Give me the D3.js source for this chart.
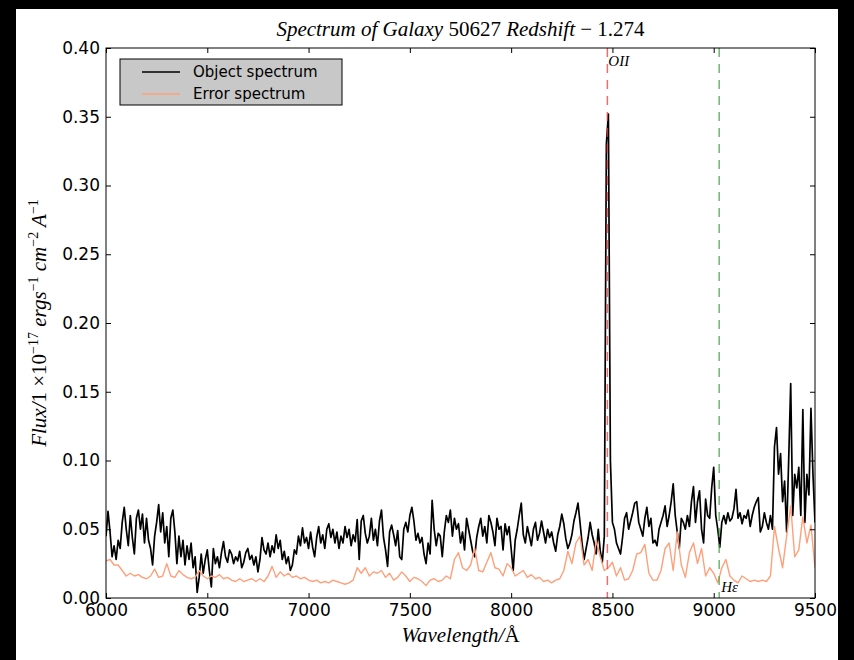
<!DOCTYPE html>
<html lang="en">
<head>
<meta charset="UTF-8">
<title>Spectrum of Galaxy 50627</title>
<script src="https://cdn.jsdelivr.net/npm/d3@7"></script>
<style>
    body { margin: 0; background: #000; }
    svg { display: block; }
    .tick text { font-family: "DejaVu Sans", sans-serif; font-size: 17px; fill: #000; }
    .tick line { stroke: #000; stroke-width: 1; }
    .math { font-family: "Liberation Serif", serif; font-style: italic; }
</style>
</head>
<body>
<div id="chart"></div>
<script>
// wavelength grids (Angstrom)
const objStart = 6000, objStep = 10;
const errStart = 6000, errStep = 20;

// object spectrum, 10 A bins, one row per 100 A
const objectFlux = [
    0.045, 0.063, 0.048, 0.030, 0.038, 0.028, 0.042, 0.036, 0.055, 0.066, // 6000
    0.050, 0.038, 0.060, 0.044, 0.032, 0.058, 0.064, 0.050, 0.061, 0.040, // 6100
    0.058, 0.042, 0.036, 0.024, 0.045, 0.055, 0.068, 0.048, 0.062, 0.040, // 6200
    0.052, 0.030, 0.058, 0.064, 0.048, 0.025, 0.045, 0.030, 0.042, 0.024, // 6300
    0.038, 0.028, 0.040, 0.022, 0.030, 0.004, 0.015, 0.032, 0.018, 0.028, // 6400
    0.035, 0.020, 0.008, 0.036, 0.025, 0.030, 0.022, 0.033, 0.041, 0.030, // 6500
    0.026, 0.035, 0.032, 0.025, 0.030, 0.027, 0.034, 0.022, 0.026, 0.033, // 6600
    0.036, 0.028, 0.031, 0.024, 0.030, 0.019, 0.028, 0.044, 0.035, 0.032, // 6700
    0.040, 0.030, 0.038, 0.033, 0.046, 0.036, 0.042, 0.028, 0.034, 0.025, // 6800
    0.030, 0.020, 0.024, 0.035, 0.032, 0.045, 0.038, 0.051, 0.040, 0.044, // 6900
    0.036, 0.048, 0.037, 0.030, 0.044, 0.052, 0.040, 0.046, 0.036, 0.050, // 7000
    0.054, 0.044, 0.050, 0.040, 0.048, 0.036, 0.045, 0.040, 0.052, 0.044, // 7100
    0.050, 0.038, 0.046, 0.041, 0.057, 0.028, 0.056, 0.060, 0.047, 0.040, // 7200
    0.045, 0.058, 0.042, 0.050, 0.038, 0.056, 0.064, 0.044, 0.035, 0.023, // 7300
    0.048, 0.053, 0.046, 0.038, 0.049, 0.030, 0.028, 0.050, 0.055, 0.048, // 7400
    0.060, 0.066, 0.056, 0.042, 0.047, 0.040, 0.044, 0.032, 0.025, 0.040, // 7500
    0.032, 0.071, 0.050, 0.038, 0.047, 0.045, 0.030, 0.048, 0.060, 0.055, // 7600
    0.064, 0.045, 0.058, 0.050, 0.054, 0.040, 0.048, 0.035, 0.058, 0.050, // 7700
    0.042, 0.034, 0.030, 0.044, 0.052, 0.058, 0.045, 0.052, 0.040, 0.060, // 7800
    0.055, 0.048, 0.038, 0.058, 0.050, 0.052, 0.035, 0.054, 0.046, 0.052, // 7900
    0.036, 0.020, 0.042, 0.050, 0.060, 0.069, 0.046, 0.040, 0.052, 0.045, // 8000
    0.038, 0.050, 0.055, 0.042, 0.047, 0.056, 0.048, 0.040, 0.050, 0.044, // 8100
    0.048, 0.040, 0.034, 0.046, 0.052, 0.061, 0.054, 0.043, 0.036, 0.040, // 8200
    0.046, 0.056, 0.062, 0.069, 0.055, 0.040, 0.028, 0.036, 0.044, 0.055, // 8300
    0.046, 0.040, 0.032, 0.050, 0.034, 0.026, 0.045, 0.330, 0.352, 0.100, // 8400
    0.055, 0.050, 0.040, 0.036, 0.032, 0.044, 0.058, 0.062, 0.050, 0.056, // 8500
    0.062, 0.069, 0.070, 0.055, 0.050, 0.045, 0.058, 0.066, 0.052, 0.058, // 8600
    0.040, 0.042, 0.038, 0.050, 0.055, 0.060, 0.067, 0.052, 0.060, 0.070, // 8700
    0.083, 0.060, 0.048, 0.036, 0.058, 0.055, 0.050, 0.060, 0.052, 0.070, // 8800
    0.081, 0.055, 0.070, 0.078, 0.050, 0.040, 0.072, 0.060, 0.058, 0.080, // 8900
    0.095, 0.060, 0.050, 0.037, 0.055, 0.060, 0.054, 0.062, 0.056, 0.058, // 9000
    0.065, 0.079, 0.058, 0.062, 0.054, 0.060, 0.058, 0.064, 0.052, 0.060, // 9100
    0.066, 0.070, 0.073, 0.048, 0.052, 0.062, 0.055, 0.050, 0.060, 0.050, // 9200
    0.110, 0.124, 0.090, 0.105, 0.070, 0.085, 0.048, 0.100, 0.156, 0.060, // 9300
    0.090, 0.080, 0.095, 0.060, 0.137, 0.055, 0.090, 0.075, 0.138, 0.090, // 9400
    0.055                                                                 // 9500
];

// error spectrum, 20 A bins, one row per 100 A
const errorFlux = [
    0.027, 0.028, 0.024, 0.024, 0.020,   // 6000
    0.016, 0.018, 0.016, 0.017, 0.015,   // 6100
    0.014, 0.016, 0.021, 0.015, 0.016,   // 6200
    0.025, 0.016, 0.015, 0.020, 0.017,   // 6300
    0.015, 0.014, 0.015, 0.020, 0.016,   // 6400
    0.014, 0.016, 0.015, 0.017, 0.014,   // 6500
    0.015, 0.013, 0.012, 0.014, 0.012,   // 6600
    0.013, 0.014, 0.012, 0.014, 0.012,   // 6700
    0.016, 0.023, 0.015, 0.019, 0.016,   // 6800
    0.018, 0.015, 0.016, 0.014, 0.015,   // 6900
    0.013, 0.012, 0.013, 0.011, 0.012,   // 7000
    0.011, 0.013, 0.012, 0.011, 0.010,   // 7100
    0.011, 0.013, 0.022, 0.018, 0.022,   // 7200
    0.016, 0.019, 0.018, 0.020, 0.015,   // 7300
    0.018, 0.013, 0.015, 0.019, 0.016,   // 7400
    0.012, 0.015, 0.014, 0.012, 0.009,   // 7500
    0.013, 0.014, 0.012, 0.013, 0.016,   // 7600
    0.014, 0.028, 0.033, 0.022, 0.020,   // 7700
    0.024, 0.036, 0.020, 0.019, 0.026,   // 7800
    0.033, 0.022, 0.021, 0.016, 0.025,   // 7900
    0.022, 0.016, 0.018, 0.020, 0.015,   // 8000
    0.017, 0.014, 0.015, 0.012, 0.013,   // 8100
    0.011, 0.013, 0.014, 0.020, 0.034,   // 8200
    0.025, 0.040, 0.045, 0.024, 0.028,   // 8300
    0.020, 0.042, 0.030, 0.020, 0.022,   // 8400
    0.026, 0.016, 0.022, 0.013, 0.014,   // 8500
    0.020, 0.032, 0.033, 0.039, 0.018,   // 8600
    0.013, 0.013, 0.020, 0.036, 0.040,   // 8700
    0.020, 0.048, 0.024, 0.015, 0.033,   // 8800
    0.040, 0.025, 0.036, 0.016, 0.022,   // 8900
    0.018, 0.011, 0.022, 0.028, 0.016,   // 9000
    0.013, 0.011, 0.016, 0.014, 0.012,   // 9100
    0.013, 0.012, 0.013, 0.012, 0.016,   // 9200
    0.052, 0.036, 0.022, 0.045, 0.067,   // 9300
    0.030, 0.035, 0.059, 0.040, 0.053,   // 9400
    0.022                                // 9500
];

// emission lines at z = 1.274
const lineNames = ["OII", "H\u03b5"];
const lineWaves = [8475, 9027];
const lineColors = ["rgba(230,60,60,0.75)", "rgba(60,160,60,0.75)"];

const xTicks = [6000, 6500, 7000, 7500, 8000, 8500, 9000, 9500];
const yTicks = [0, 0.05, 0.10, 0.15, 0.20, 0.25, 0.30, 0.35, 0.40];

const W = 854, H = 660;
const margin = { top: 48, right: 39, bottom: 62, left: 106 };

const svg = d3.select("#chart").append("svg")
    .attr("width", W)
    .attr("height", H);

// white figure panel on black page
svg.append("rect")
    .attr("x", 16).attr("y", 9)
    .attr("width", 822).attr("height", H - 9)
    .attr("fill", "#fff");

const x = d3.scaleLinear().domain([6000, 9500]).range([margin.left, W - margin.right]);
const y = d3.scaleLinear().domain([0, 0.4]).range([H - margin.bottom, margin.top]);

const objData = objectFlux.map((f, i) => [objStart + i * objStep, f]);
const errData = errorFlux.map((f, i) => [errStart + i * errStep, f]);

const line = d3.line().x(d => x(d[0])).y(d => y(d[1]));

const plot = svg.append("g");

plot.append("clipPath").attr("id", "clip")
    .append("rect")
    .attr("x", x(6000)).attr("y", y(0.4))
    .attr("width", x(9500) - x(6000)).attr("height", y(0) - y(0.4));

const g = plot.append("g").attr("clip-path", "url(#clip)");

g.append("path")
    .datum(objData)
    .attr("fill", "none")
    .attr("stroke", "#000")
    .attr("stroke-width", 1.7)
    .attr("stroke-linejoin", "round")
    .attr("d", line);

g.append("path")
    .datum(errData)
    .attr("fill", "none")
    .attr("stroke", "#ffa07a")
    .attr("stroke-width", 1.4)
    .attr("stroke-linejoin", "round")
    .attr("d", line);

// dashed line markers
g.selectAll(".eline")
    .data(lineWaves)
    .join("line")
    .attr("class", "eline")
    .attr("x1", d => x(d)).attr("x2", d => x(d))
    .attr("y1", y(0.4)).attr("y2", y(0))
    .attr("stroke", (d, i) => lineColors[i])
    .attr("stroke-width", 1.5)
    .attr("stroke-dasharray", "9,7");

plot.append("text")
    .attr("class", "math")
    .attr("x", x(lineWaves[0]) + 1).attr("y", y(0.4) + 18)
    .attr("font-size", 15)
    .text(lineNames[0]);

plot.append("text")
    .attr("class", "math")
    .attr("x", x(lineWaves[1]) + 2).attr("y", y(0) - 6)
    .attr("font-size", 15)
    .text(lineNames[1]);

// axes, ticks pointing inward on all four sides
svg.append("g")
    .attr("transform", `translate(0,${y(0)})`)
    .call(d3.axisBottom(x).tickValues(xTicks).tickSize(-5).tickPadding(6).tickFormat(d3.format("d")))
    .call(a => a.select(".domain").remove());

svg.append("g")
    .attr("transform", `translate(0,${y(0.4)})`)
    .call(d3.axisTop(x).tickValues(xTicks).tickSize(-5).tickFormat(""))
    .call(a => a.select(".domain").remove());

svg.append("g")
    .attr("transform", `translate(${x(6000)},0)`)
    .call(d3.axisLeft(y).tickValues(yTicks).tickSize(-5).tickPadding(6).tickFormat(d3.format(".2f")))
    .call(a => a.select(".domain").remove());

svg.append("g")
    .attr("transform", `translate(${x(9500)},0)`)
    .call(d3.axisRight(y).tickValues(yTicks).tickSize(-5).tickFormat(""))
    .call(a => a.select(".domain").remove());

svg.append("rect")
    .attr("x", x(6000)).attr("y", y(0.4))
    .attr("width", x(9500) - x(6000)).attr("height", y(0) - y(0.4))
    .attr("fill", "none")
    .attr("stroke", "#000")
    .attr("stroke-width", 1);

// legend
const legendNames = ["Object spectrum", "Error spectrum"];
const legendColors = ["#000", "#ffa07a"];
const lg = svg.append("g").attr("transform", "translate(120,59)");
lg.append("rect")
    .attr("width", 222).attr("height", 46)
    .attr("fill", "#c8c8c8")
    .attr("stroke", "#000");
legendNames.forEach((name, i) => {
    lg.append("line")
        .attr("x1", 22).attr("x2", 60)
        .attr("y1", 13 + i * 22).attr("y2", 13 + i * 22)
        .attr("stroke", legendColors[i])
        .attr("stroke-width", i === 0 ? 1.7 : 1.4);
    lg.append("text")
        .attr("x", 73).attr("y", 18 + i * 22)
        .attr("font-family", "DejaVu Sans, sans-serif")
        .attr("font-size", 15)
        .text(name);
});

// title and axis labels
const title = svg.append("text")
    .attr("class", "math")
    .attr("x", (x(6000) + x(9500)) / 2)
    .attr("y", 36)
    .attr("text-anchor", "middle")
    .attr("font-size", 21);
title.append("tspan").text("Spectrum of Galaxy ");
title.append("tspan").attr("font-style", "normal").text("50627");
title.append("tspan").text(" Redshift ");
title.append("tspan").attr("font-style", "normal").text("\u2212 1.274");

const xl = svg.append("text")
    .attr("class", "math")
    .attr("x", (x(6000) + x(9500)) / 2)
    .attr("y", 642)
    .attr("text-anchor", "middle")
    .attr("font-size", 21);
xl.append("tspan").text("Wavelength/");
xl.append("tspan").attr("font-style", "normal").text("\u00c5");

const yl = svg.append("text")
    .attr("class", "math")
    .attr("transform", `translate(46,${(y(0) + y(0.4)) / 2}) rotate(-90)`)
    .attr("text-anchor", "middle")
    .attr("font-size", 21);
yl.append("tspan").text("Flux/");
yl.append("tspan").attr("font-style", "normal").text("1 \u00d710");
yl.append("tspan").attr("font-style", "normal").attr("font-size", 14).attr("dy", -8).text("\u221217");
yl.append("tspan").attr("dy", 8).text(" ergs");
yl.append("tspan").attr("font-style", "normal").attr("font-size", 14).attr("dy", -8).text("\u22121");
yl.append("tspan").attr("dy", 8).text(" cm");
yl.append("tspan").attr("font-style", "normal").attr("font-size", 14).attr("dy", -8).text("\u22122");
yl.append("tspan").attr("dy", 8).text(" A");
yl.append("tspan").attr("font-style", "normal").attr("font-size", 14).attr("dy", -8).text("\u22121");
</script>
</body>
</html>
